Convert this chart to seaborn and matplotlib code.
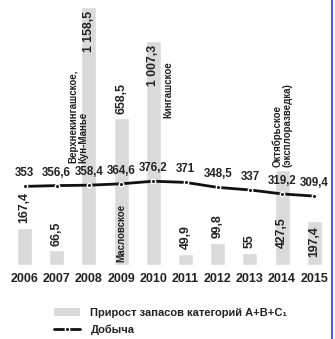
import matplotlib
matplotlib.use("Agg")
import matplotlib.pyplot as plt
import seaborn as sns
import numpy as np
import pandas as pd
from matplotlib.lines import Line2D
from matplotlib.patches import Patch

years = ["2006", "2007", "2008", "2009", "2010", "2011", "2012", "2013", "2014", "2015"]
reserves = [167.4, 66.5, 1158.5, 658.5, 1007.3, 49.9, 99.8, 55, 427.5, 197.4]
production = [353, 356.6, 358.4, 364.6, 376.2, 371, 348.5, 337, 319.2, 309.4]
reserve_labels = ["167,4", "66,5", "1 158,5", "658,5", "1 007,3", "49,9", "99,8", "55", "427,5", "197,4"]
production_labels = ["353", "356,6", "358,4", "364,6", "376,2", "371", "348,5", "337", "319,2", "309,4"]
deposit_labels = ["Верхнекингашское,\nКун-Манье", "Масловское", "Кингашское", "Октябрьское\n(эксплоразведка)"]
legend_labels = ["Прирост запасов категорий А+В+С\u2081", "Добыча"]

# layout (label placement)
label_mode = ["above", "above", "inside", "above", "inside", "above", "above", "above", "abs", "abs"]
label_abs = {8: 76, 9: 36}
deposit_pos = [(1.66, 458), (3.0, 13), (4.46, 660), (8.0, 440)]

sns.set_theme(style="white")
plt.rcParams['font.family'] = ['Liberation Sans', 'DejaVu Sans']

df = pd.DataFrame({"year": years, "reserves": reserves, "production": production})

fig = plt.figure(figsize=(3.35, 3.39), dpi=100)
ax = fig.add_axes([8.4 / 335, (339 - 265) / 339, 322 / 335, 265 / 339])

sns.barplot(data=df, x="year", y="reserves", color="#dadada", saturation=1,
            width=0.47, ax=ax, zorder=1)
x = np.arange(len(years))
ax.plot(x, production, color="#111111", lw=2.0, marker="o", ms=3.2,
        markerfacecolor="#111111", markeredgecolor="white", mew=1.0, zorder=3)

ax.set_xlim(-0.5, 9.5)
ax.set_ylim(0, 1190)
for s in ax.spines.values():
    s.set_visible(False)
ax.set_yticks([])
ax.set_xlabel("")
ax.set_ylabel("")
ax.tick_params(axis="x", length=0, pad=6)
for t in ax.get_xticklabels():
    t.set_fontsize(9)
    t.set_fontweight("bold")
    t.set_color("#222222")

px = 1 / 0.2227  # data units per pixel
for i, (v, lab, mode) in enumerate(zip(reserves, reserve_labels, label_mode)):
    if mode == "above":
        ax.text(i, v + 4.5 * px, lab, rotation=90, ha="center", va="bottom",
                fontsize=8.8, fontweight="bold", color="#222222", zorder=4)
    elif mode == "inside":
        ax.text(i, v - 4 * px, lab, rotation=90, ha="center", va="top",
                fontsize=8.8, fontweight="bold", color="#222222", zorder=4)
    else:
        ax.text(i, label_abs[i], lab, rotation=90, ha="center", va="bottom",
                fontsize=8.8, fontweight="bold", color="#222222", zorder=4)

for i, (v, lab) in enumerate(zip(production, production_labels)):
    ax.annotate(lab, (i, v), xytext=(0, 5.0), textcoords="offset points",
                ha="center", va="bottom", fontsize=8.3, fontweight="bold",
                color="#222222", zorder=4)

for lab, (dx, dy) in zip(deposit_labels, deposit_pos):
    ax.text(dx, dy, lab, rotation=90, ha="center", va="bottom",
            multialignment="left", fontsize=7, fontweight="bold",
            color="#222222", linespacing=1.0, zorder=4)

handles = [Patch(facecolor="#dadada", edgecolor="none"),
           Line2D([0], [0], color="#111111", lw=2.0, marker="o", ms=3.2,
                  markerfacecolor="#111111", markeredgecolor="white", mew=1.0)]
fig.legend(handles, legend_labels, loc="upper left",
           bbox_to_anchor=(46 / 335, 1 - 300 / 339), frameon=False,
           prop={"size": 8, "weight": "bold"}, handlelength=2.4,
           handleheight=0.8, labelspacing=0.6, handletextpad=0.9,
           labelcolor="#222222", borderaxespad=0.3)

fig.add_artist(Line2D([331.5 / 335, 331.5 / 335], [0, 1], color="#2a3fd0", lw=1.2))

fig.savefig("out.png", dpi=100)
